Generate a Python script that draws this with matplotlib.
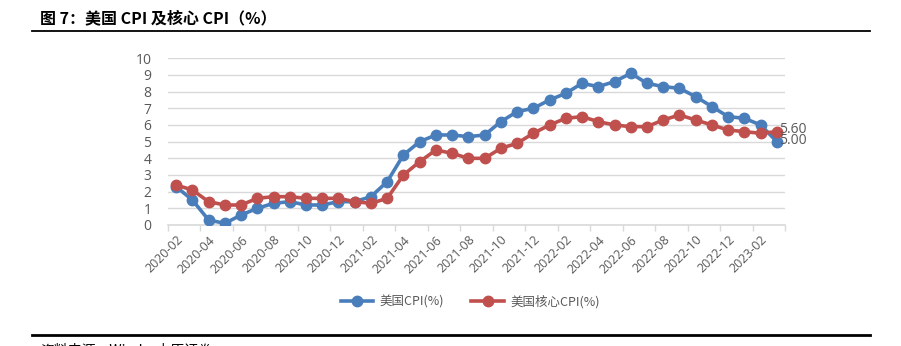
import matplotlib
matplotlib.use("Agg")
import matplotlib.pyplot as plt
from matplotlib.lines import Line2D

plt.rcParams['font.family'] = ['Noto Sans CJK SC', 'DejaVu Sans']

months = [
    "2020-02", "2020-03", "2020-04", "2020-05", "2020-06", "2020-07", "2020-08", "2020-09",
    "2020-10", "2020-11", "2020-12", "2021-01", "2021-02", "2021-03", "2021-04", "2021-05",
    "2021-06", "2021-07", "2021-08", "2021-09", "2021-10", "2021-11", "2021-12", "2022-01",
    "2022-02", "2022-03", "2022-04", "2022-05", "2022-06", "2022-07", "2022-08", "2022-09",
    "2022-10", "2022-11", "2022-12", "2023-01", "2023-02", "2023-03",
]
cpi = [2.3, 1.5, 0.3, 0.1, 0.6, 1.0, 1.3, 1.4, 1.2, 1.2, 1.4, 1.4, 1.7, 2.6, 4.2, 5.0,
       5.4, 5.4, 5.3, 5.4, 6.2, 6.8, 7.0, 7.5, 7.9, 8.5, 8.3, 8.6, 9.1, 8.5, 8.3, 8.2,
       7.7, 7.1, 6.5, 6.4, 6.0, 5.0]
core_cpi = [2.4, 2.1, 1.4, 1.2, 1.2, 1.6, 1.7, 1.7, 1.6, 1.6, 1.6, 1.4, 1.3, 1.6, 3.0, 3.8,
            4.5, 4.3, 4.0, 4.0, 4.6, 4.9, 5.5, 6.0, 6.4, 6.5, 6.2, 6.0, 5.9, 5.9, 6.3, 6.6,
            6.3, 6.0, 5.7, 5.6, 5.5, 5.6]
series_names = ["美国CPI(%)", "美国核心CPI(%)"]

blue = "#4A7EBB"
red = "#C0504D"
gray = "#595959"
num_font = ["Open Sans", "DejaVu Sans"]

fig = plt.figure(figsize=(9.01, 3.46), dpi=100)
ax = fig.add_axes([168 / 901, 1 - 225 / 346, 617 / 901, (225 - 58.3) / 346])

x = list(range(len(months)))
ax.plot(x, cpi, color=blue, lw=2.6, marker="o", ms=7.5, zorder=3)
ax.plot(x, core_cpi, color=red, lw=2.6, marker="o", ms=7.5, zorder=3)

# labels on the last points
ax.text(x[-1] + 0.15, core_cpi[-1] + 0.1, f"{core_cpi[-1]:.2f}", color=gray, fontsize=10,
        family=num_font, va="center", ha="left", zorder=4)
ax.text(x[-1] + 0.15, cpi[-1] + 0.05, f"{cpi[-1]:.2f}", color=gray, fontsize=10,
        family=num_font, va="center", ha="left", zorder=4)

ax.set_xlim(-0.5, len(months) - 0.5)
ax.set_ylim(0, 10)
ax.set_yticks(range(0, 11))
ax.grid(axis="y", color="#D9D9D9", lw=1)
ax.set_axisbelow(True)
for s in ["top", "right", "left"]:
    ax.spines[s].set_visible(False)
ax.spines["bottom"].set_color("#D9D9D9")
ax.spines["bottom"].set_linewidth(1.2)

ax.set_xticks(x[::2])
ax.set_xticklabels(months[::2], rotation=45, ha="right", rotation_mode="anchor",
                   family=num_font, fontsize=9, color=gray)
ax.set_xticks([i - 0.5 for i in range(0, len(months) + 1, 2)], minor=True)
ax.tick_params(axis="x", which="major", length=0, pad=6)
ax.tick_params(axis="x", which="minor", length=4, color="#D9D9D9", width=1)
ax.tick_params(axis="y", length=0, pad=12, labelcolor=gray, labelsize=10)
for lab in ax.get_yticklabels():
    lab.set_family(num_font)

handles = [Line2D([], [], color=blue, lw=2.6, marker="o", ms=7.5),
           Line2D([], [], color=red, lw=2.6, marker="o", ms=7.5)]
fig.legend(handles, series_names, loc="center", bbox_to_anchor=(470 / 901, 1 - 302 / 346),
           ncol=2, frameon=False, fontsize=9, labelcolor=gray, handlelength=2.6,
           columnspacing=2.2, handletextpad=0.5)

# title and rules
fig.text(40 / 901, 1 - 18 / 346, "图 7：美国 CPI 及核心 CPI（%）", fontsize=11.5,
         fontweight="bold", color="black", va="center", ha="left")
fig.add_artist(Line2D([32 / 901, 870 / 901], [1 - 31 / 346] * 2, color="black", lw=1.3))
fig.add_artist(Line2D([32 / 901, 870 / 901], [1 - 335 / 346] * 2, color="black", lw=2))
fig.text(40 / 901, 1 - 350 / 346, "资料来源：Wind，中原证券", fontsize=10, color="black",
         va="center", ha="left")

fig.savefig("out.png", dpi=100)
